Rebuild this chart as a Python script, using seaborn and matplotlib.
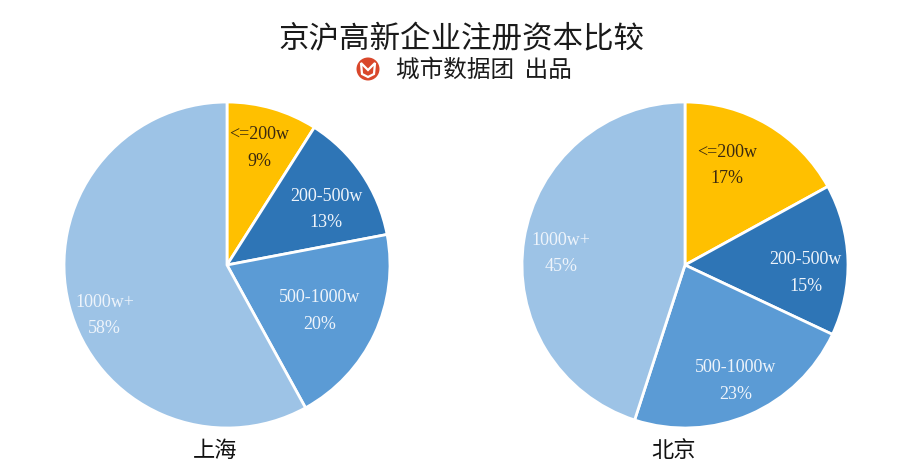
import matplotlib
matplotlib.use("Agg")
import matplotlib.pyplot as plt
from matplotlib.patches import Circle, Polygon
import numpy as np
import seaborn as sns

sns.set_theme(style="white")
plt.rcParams['font.family'] = ['Noto Sans CJK SC', 'DejaVu Sans']

categories = ["<=200w", "200-500w", "500-1000w", "1000w+"]
shanghai = [9, 13, 20, 58]
beijing = [17, 15, 23, 45]
city_names = ["上海", "北京"]
title = "京沪高新企业注册资本比较"
subtitle = "城市数据团  出品"

colors = ["#FFC000", "#2E75B6", "#5B9BD5", "#9DC3E6"]
text_colors = ["#3b2a10", "#EEF4FB", "#EEF4FB", "#EEF4FB"]

fig = plt.figure(figsize=(9.08, 4.72), dpi=100)
fig.patch.set_facecolor("white")

axes_rects = [[0.0705, 0.0932, 0.359, 0.6907], [0.5749, 0.0932, 0.359, 0.6907]]
# label anchor positions (in pie radius units)
label_pos = [
    [(0.20, 0.72), (0.61, 0.34), (0.57, -0.28), (-0.75, -0.31)],
    [(0.26, 0.61), (0.74, -0.05), (0.31, -0.71), (-0.76, 0.07)],
]

for rect, vals, lpos, name in zip(axes_rects, [shanghai, beijing], label_pos, city_names):
    ax = fig.add_axes(rect)
    wedges, _ = ax.pie(vals, colors=colors, startangle=90, counterclock=False,
                       wedgeprops=dict(edgecolor="white", linewidth=2))
    total = sum(vals)
    for v, c, (x, y), tc in zip(vals, categories, lpos, text_colors):
        ax.text(x, y, f"{c}\n{round(100 * v / total)}%", ha="center", va="center",
                fontsize=13, color=tc, family=["Liberation Serif", "DejaVu Serif"],
                linespacing=1.75)
    ax.set_aspect("equal")
    ax.set_xlim(-1, 1)
    ax.set_ylim(-1, 1)
    ax.axis("off")
    cx = rect[0] + rect[2] / 2
    fig.text(cx - 0.013, 0.045, name, ha="center", va="center", fontsize=16, color="#111111")

fig.text(0.508, 0.915, title, ha="center", va="center", fontsize=22, color="#1a1a1a")
fig.text(0.533, 0.851, subtitle, ha="center", va="center", fontsize=17, color="#1a1a1a")

# logo
lx, ly = 368, 472 - 69
fig.patches.append(Circle((lx, ly), 11.5, transform=None, facecolor="#D9472B", edgecolor="none"))
face = Polygon([(lx - 7, ly + 6), (lx, ly - 1), (lx + 7, ly + 6), (lx + 6, ly - 5),
                (lx, ly - 8), (lx - 6, ly - 5)], closed=True, transform=None,
               facecolor="none", edgecolor="white", linewidth=1.6)
fig.patches.append(face)

fig.savefig("out.png", dpi=100, facecolor="white")
